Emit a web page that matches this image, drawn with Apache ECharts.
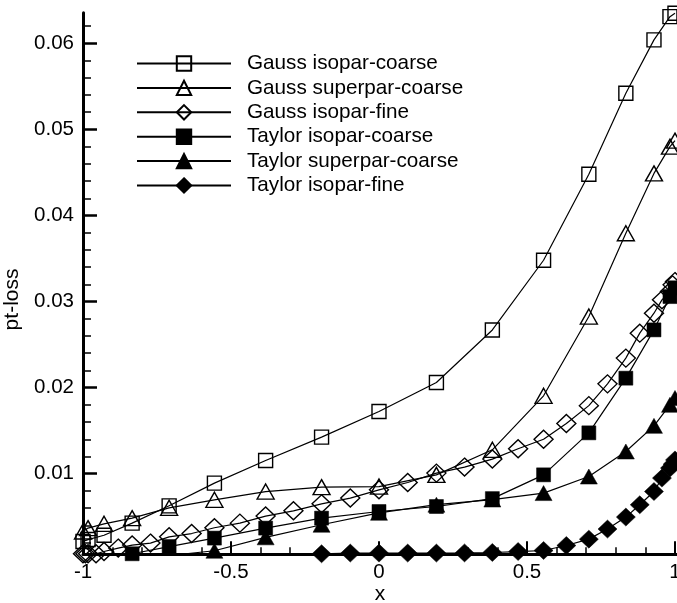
<!DOCTYPE html>
<html>
<head>
<meta charset="utf-8">
<script src="https://cdn.jsdelivr.net/npm/echarts@6/dist/echarts.min.js"></script>
<style>html,body{margin:0;padding:0;background:#fff;}#c{width:677px;height:603px;}</style>
</head>
<body>
<div id="c"></div>
<script>
// ---- data ----
const seriesNames = ['Gauss isopar-coarse','Gauss superpar-coarse','Gauss isopar-fine','Taylor isopar-coarse','Taylor superpar-coarse','Taylor isopar-fine'];
const xCoarse = [-1, -0.983, -0.929, -0.834, -0.709, -0.556, -0.383, -0.194, 0, 0.194, 0.383, 0.556, 0.709, 0.834, 0.929, 0.983, 1];
const xFine = [-1, -0.992, -0.983, -0.956, -0.929, -0.881, -0.834, -0.772, -0.709, -0.633, -0.556, -0.470, -0.383, -0.289, -0.194, -0.097, 0, 0.097, 0.194, 0.289, 0.383, 0.470, 0.556, 0.633, 0.709, 0.772, 0.834, 0.881, 0.929, 0.956, 0.983, 0.992, 1];
const gaussIsoparCoarse = [0.00213, 0.00235, 0.00285, 0.00426, 0.00627, 0.00891, 0.01153, 0.01425, 0.01722, 0.0206, 0.0267, 0.0348, 0.0448, 0.0542, 0.0604, 0.0631, 0.0635];
const gaussSuperparCoarse = [0.00329, 0.00368, 0.00418, 0.00484, 0.00604, 0.00697, 0.00793, 0.00844, 0.00851, 0.00987, 0.01278, 0.01905, 0.02826, 0.03794, 0.04489, 0.0480, 0.0487];
const gaussIsoparFine = [0.0007, 0.0007, 0.0007, 0.0007, 0.00096, 0.00136, 0.00171, 0.00194, 0.00267, 0.00305, 0.00372, 0.00426, 0.00508, 0.00569, 0.0065, 0.00717, 0.00813, 0.00898, 0.01007, 0.01077, 0.0117, 0.0129, 0.0140, 0.01583, 0.01791, 0.02044, 0.02343, 0.02633, 0.02865, 0.0302, 0.03116, 0.03194, 0.03232];
const taylorIsoparCoarse = [0.0003, 0.0003, 0.0003, 0.0007, 0.00154, 0.00252, 0.00368, 0.00484, 0.00561, 0.00619, 0.00711, 0.00987, 0.01475, 0.0211, 0.02671, 0.03058, 0.0316];
const taylorSuperparCoarse = [0.0002, 0.0002, 0.0003, 0.0004, 0.0005, 0.00105, 0.00261, 0.00407, 0.00546, 0.0064, 0.0070, 0.00775, 0.00967, 0.01258, 0.01556, 0.0180, 0.0188];
const taylorIsoparFine = [0.0001, 0.0001, 0.0001, 0.0001, 0.0001, 0.0001, 0.0002, 0.0002, 0.0002, 0.0002, 0.0003, 0.0003, 0.0004, 0.0005, 0.0007, 0.00078, 0.00078, 0.00078, 0.00078, 0.0008, 0.00085, 0.00096, 0.00108, 0.00166, 0.0024, 0.00357, 0.00496, 0.00639, 0.00793, 0.00949, 0.01065, 0.0111, 0.0116];
const xMajorTicks = [-1, -0.5, 0, 0.5, 1];
const xMinorTicks = [-0.9, -0.8, -0.7, -0.6, -0.4, -0.3, -0.2, -0.1, 0.1, 0.2, 0.3, 0.4, 0.6, 0.7, 0.8, 0.9];
const yMajorTicks = [0.01, 0.02, 0.03, 0.04, 0.05, 0.06];
const yMinorTicks = [0.002, 0.004, 0.006, 0.008, 0.012, 0.014, 0.016, 0.018, 0.022, 0.024, 0.026, 0.028, 0.032, 0.034, 0.036, 0.038, 0.042, 0.044, 0.046, 0.048, 0.052, 0.054, 0.056, 0.058, 0.062];

// ---- chart ----
const FONT = 'Liberation Sans';
const X_MIN = -1, X_MAX = 1.0068, Y_MIN = 0.00065, Y_MAX = 0.06356;
const pair = (xs, ys) => xs.map((x, i) => [x, ys[i]]);

function mkSeries(name, xs, ys, symbol, size, filled) {
  return {
    name, type: 'line', data: pair(xs, ys), xAxisIndex: 0, yAxisIndex: 0,
    symbol, symbolSize: size, showAllSymbol: true, clip: true,
    lineStyle: { color: '#000', width: 1.2 },
    itemStyle: filled
      ? { color: '#000', borderColor: '#000', borderWidth: 0.5 }
      : { color: 'rgba(0,0,0,0)', borderColor: '#000', borderWidth: 1.4 },
    emphasis: { disabled: true }, silent: true
  };
}

const chart = echarts.init(document.getElementById('c'), null, { renderer: 'canvas' });
chart.setOption({
  animation: false,
  backgroundColor: '#fff',
  textStyle: { fontFamily: FONT },
  grid: { left: 83, right: 0, top: 12.7, bottom: 48.8, containLabel: false, outerBoundsMode: 'none' },
  legend: {
    orient: 'vertical', left: 131, top: 48,
    itemWidth: 94, itemHeight: 18, itemGap: 3.4,
    data: seriesNames,
    textStyle: { fontFamily: FONT, fontSize: 20.7, color: '#000', padding: [0, 0, 0, 11] },
    selectedMode: false
  },
  xAxis: [{
    type: 'value', min: X_MIN, max: X_MAX, position: 'bottom',
    name: 'x', nameLocation: 'middle', nameGap: 30, nameMoveOverlap: false,
    nameTextStyle: { fontFamily: FONT, fontSize: 21, color: '#000' },
    axisLine: { show: true, onZero: false, lineStyle: { color: '#000', width: 3 } },
    axisTick: { show: true, inside: true, length: 13, customValues: xMajorTicks, lineStyle: { color: '#000', width: 2 } },
    axisLabel: { show: true, customValues: xMajorTicks, margin: 8, fontFamily: FONT, fontSize: 20.5, color: '#000', formatter: v => String(v) },
    splitLine: { show: false }
  }, {
    type: 'value', min: X_MIN, max: X_MAX, position: 'bottom', offset: 0,
    axisLine: { show: false, onZero: false },
    axisTick: { show: true, inside: true, length: 7, customValues: xMinorTicks, lineStyle: { color: '#000', width: 1.5 } },
    axisLabel: { show: false },
    splitLine: { show: false }
  }],
  yAxis: [{
    type: 'value', min: Y_MIN, max: Y_MAX, position: 'left',
    name: 'pt-loss', nameLocation: 'middle', nameGap: 60, nameRotate: 90, nameMoveOverlap: false,
    nameTextStyle: { fontFamily: FONT, fontSize: 21, color: '#000', padding: [0, 32, 0, 0] },
    axisLine: { show: true, onZero: false, lineStyle: { color: '#000', width: 3 } },
    axisTick: { show: true, inside: true, length: 14, customValues: yMajorTicks, lineStyle: { color: '#000', width: 2.5 } },
    axisLabel: { show: true, customValues: yMajorTicks, margin: 9, fontFamily: FONT, fontSize: 20.5, color: '#000', formatter: v => String(+v.toFixed(3)) },
    splitLine: { show: false }
  }, {
    type: 'value', min: Y_MIN, max: Y_MAX, position: 'left', offset: 0,
    axisLine: { show: false, onZero: false },
    axisTick: { show: true, inside: true, length: 8, customValues: yMinorTicks, lineStyle: { color: '#000', width: 1.5 } },
    axisLabel: { show: false },
    splitLine: { show: false }
  }],
  series: [
    mkSeries(seriesNames[0], xCoarse, gaussIsoparCoarse, 'rect', [14, 14], false),
    mkSeries(seriesNames[1], xCoarse, gaussSuperparCoarse, 'triangle', [17, 15], false),
    mkSeries(seriesNames[2], xFine, gaussIsoparFine, 'diamond', [19, 18], false),
    mkSeries(seriesNames[3], xCoarse, taylorIsoparCoarse, 'rect', [14, 14], true),
    mkSeries(seriesNames[4], xCoarse, taylorSuperparCoarse, 'triangle', [17, 15], true),
    mkSeries(seriesNames[5], xFine, taylorIsoparFine, 'diamond', [19, 18], true)
  ]
});
</script>
</body>
</html>
